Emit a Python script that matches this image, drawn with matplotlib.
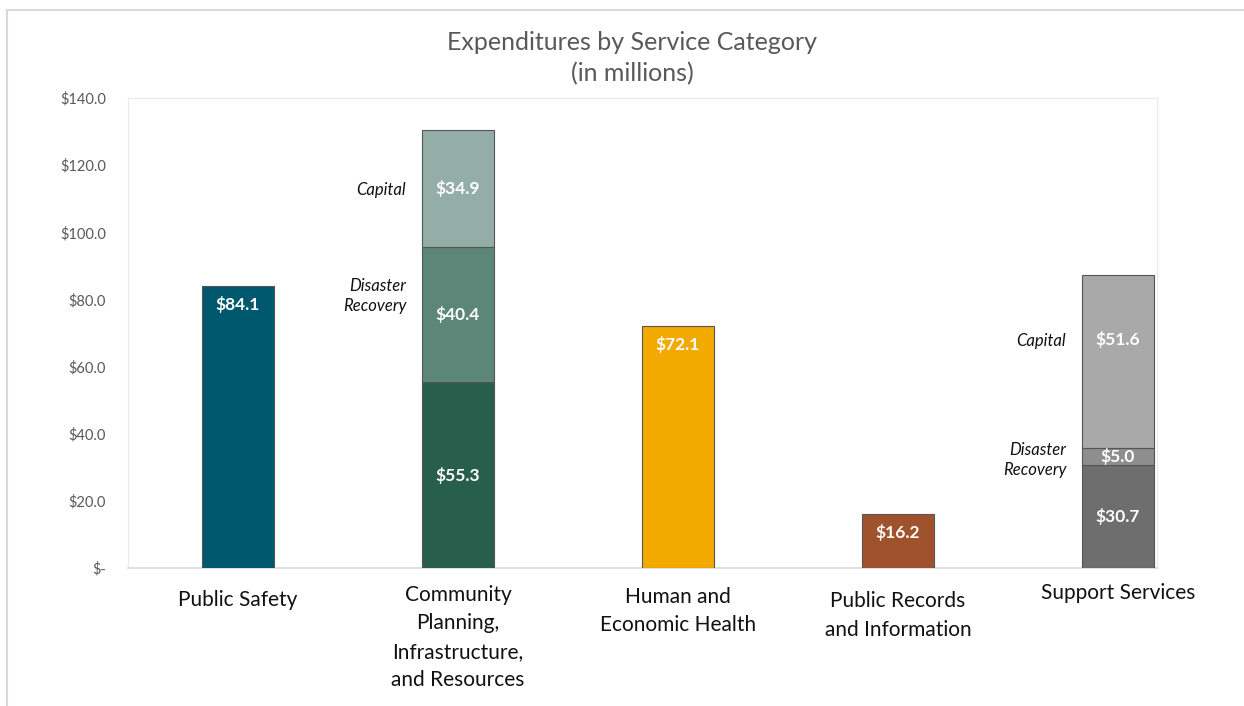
import numpy as np
import matplotlib
matplotlib.use('Agg')
import matplotlib.pyplot as plt
from matplotlib.lines import Line2D

plt.rcParams['font.family'] = ['Lato', 'DejaVu Sans']

categories = ['Public Safety',
              'Community\nPlanning,\nInfrastructure,\nand Resources',
              'Human and\nEconomic Health',
              'Public Records\nand Information',
              'Support Services']
operating = [84.1, 55.3, 72.1, 16.2, 30.7]
disaster = [0.0, 40.4, 0.0, 0.0, 5.0]
capital = [0.0, 34.9, 0.0, 0.0, 51.6]
yticks = [0, 20, 40, 60, 80, 100, 120, 140]
ytick_labels = ['$-', '$20.0', '$40.0', '$60.0', '$80.0', '$100.0', '$120.0', '$140.0']

base_colors = ['#00586E', '#275E4C', '#F2A900', '#A0522D', '#6E6E6E']
disaster_colors = ['none', '#5C8677', 'none', 'none', '#8E8E8E']
capital_colors = ['none', '#94ADA6', 'none', 'none', '#A9A9A9']

# label nudges (in data units) relative to segment centre / bar top
label_shift_capital = [0, 0, 0, 0, 6.5]
label_top_inset = 5.6

fig = plt.figure(figsize=(12.44, 7.06), dpi=100)
ax = fig.add_axes([128/1244, 1 - 568/706, (1157-128)/1244, (568-98)/706])

x = np.arange(len(categories))
w = 0.33
edge = '#555555'

operating = np.array(operating)
disaster = np.array(disaster)
capital = np.array(capital)

ax.bar(x, operating, w, color=base_colors, edgecolor=edge, linewidth=0.8, zorder=3)
for i in range(len(x)):
    if disaster[i] > 0:
        ax.bar(x[i], disaster[i], w, bottom=operating[i], color=disaster_colors[i],
               edgecolor=edge, linewidth=0.8, zorder=3)
    if capital[i] > 0:
        ax.bar(x[i], capital[i], w, bottom=operating[i] + disaster[i], color=capital_colors[i],
               edgecolor=edge, linewidth=0.8, zorder=3)

# value labels
val_fs = 12.5
for i in range(len(x)):
    stacked = disaster[i] > 0 or capital[i] > 0
    if stacked:
        ax.text(x[i], operating[i] / 2, f'${operating[i]:.1f}', ha='center', va='center',
                color='white', fontsize=val_fs, fontweight='bold', zorder=4)
        ax.text(x[i], operating[i] + disaster[i] / 2, f'${disaster[i]:.1f}', ha='center', va='center',
                color='white', fontsize=val_fs, fontweight='bold', zorder=4)
        yc = operating[i] + disaster[i] + capital[i] / 2 + label_shift_capital[i]
        ax.text(x[i], yc, f'${capital[i]:.1f}', ha='center', va='center',
                color='white', fontsize=val_fs, fontweight='bold', zorder=4)
        # side labels
        ax.text(x[i] - w / 2 - 0.07, yc - 0.5, 'Capital', ha='right', va='center',
                style='italic', fontsize=12, color='#111111')
        if disaster[i] > 10:
            dr_y = operating[i] + disaster[i] / 2 + 5.5
        else:
            dr_y = operating[i] + disaster[i] / 2 - 1.0
        ax.text(x[i] - w / 2 - 0.07, dr_y, 'Disaster\nRecovery', ha='right', va='center',
                style='italic', fontsize=12, color='#111111', linespacing=1.35)
    else:
        ax.text(x[i], operating[i] - label_top_inset, f'${operating[i]:.1f}', ha='center', va='center',
                color='white', fontsize=val_fs, fontweight='bold', zorder=4)

ax.set_xlim(-0.5, (1157 - 238) / 220)
ax.set_ylim(0, 140)
ax.set_yticks(yticks)
ax.set_yticklabels(ytick_labels, color='#595959', fontsize=10.5)
ax.tick_params(axis='y', length=0, pad=16)
ax.set_xticks([])

# category labels placed individually, as in the original
label_top = [0.047, 0.036, 0.040, 0.049, 0.032]
for i, cat in enumerate(categories):
    ax.text(x[i], -label_top[i], cat, transform=ax.get_xaxis_transform(),
            ha='center', va='top', fontsize=15, color='#111111', linespacing=1.53)

for side in ['left', 'top', 'right']:
    ax.spines[side].set_color('#E6EBF5')
    ax.spines[side].set_linewidth(0.8)
ax.spines['bottom'].set_color('#D9D9D9')
ax.spines['bottom'].set_linewidth(1.2)

fig.text(632 / 1244, 1 - 58 / 706, 'Expenditures by Service Category\n(in millions)',
         ha='center', va='center', fontsize=18, color='#595959', linespacing=1.42)

# outer chart border (top and left edges visible in the original)
fig.add_artist(Line2D([7 / 1244, 1], [1 - 10 / 706, 1 - 10 / 706], transform=fig.transFigure,
                      color='#D9D9D9', linewidth=1.5))
fig.add_artist(Line2D([7 / 1244, 7 / 1244], [0, 1 - 10 / 706], transform=fig.transFigure,
                      color='#D9D9D9', linewidth=1.5))

fig.savefig('out.png', dpi=100)
